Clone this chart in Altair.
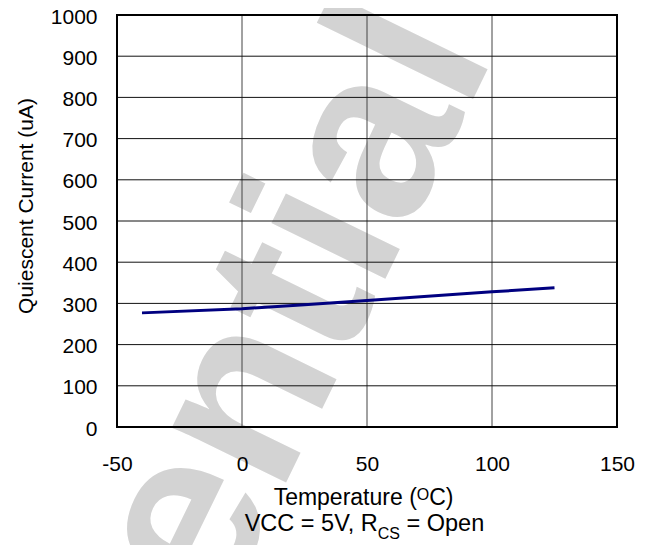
import altair as alt
import pandas as pd

# ---- data ----
temps = [-40, 0, 25, 50, 100, 125]
current = [277, 287, 297, 307, 328, 338]
x_ticks = [-50, 0, 50, 100, 150]
y_ticks = [0, 100, 200, 300, 400, 500, 600, 700, 800, 900, 1000]

W, H = 500, 412
FONT = "Liberation Sans"

df = pd.DataFrame({"T": temps, "I": current})
xs = alt.Scale(domain=[-50, 150], nice=False, zero=False)
ys = alt.Scale(domain=[0, 1000], nice=False)

ax_x = alt.Axis(values=x_ticks, labelExpr="'' + datum.value", ticks=False, tickSize=0,
                domain=False, grid=False, title=None, labelFontSize=21, labelFont=FONT,
                labelColor="#000000", labelPadding=26, labelFlush=False,
                labelOverlap=False, zindex=1)
ax_y = alt.Axis(values=y_ticks, labelExpr="'' + datum.value", ticks=False, tickSize=0,
                domain=False, grid=False, title=None, labelFontSize=21, labelFont=FONT,
                labelColor="#000000", labelPadding=20, labelFlush=False,
                labelOverlap=False, labelOffset=2, zindex=1)


def txt(text, x, y, size, align="left", angle=0, color="#000000", weight="normal",
        baseline="alphabetic"):
    return alt.Chart(pd.DataFrame({"t": [text]})).mark_text(
        align=align, baseline=baseline, fontSize=size, font=FONT, color=color,
        angle=angle, fontWeight=weight
    ).encode(text="t:N", x=alt.value(x), y=alt.value(y))


watermark = txt("Confidential", 378, 39, 240, align="right", angle=296,
                color="#d3d3d3", weight="bold")

xgrid = alt.Chart(pd.DataFrame({"T": x_ticks})).mark_rule(
    color="#444444", strokeWidth=1
).encode(x=alt.X("T:Q", scale=xs, axis=ax_x))

ygrid = alt.Chart(pd.DataFrame({"I": y_ticks})).mark_rule(
    color="#111111", strokeWidth=1
).encode(y=alt.Y("I:Q", scale=ys, axis=ax_y))

line = alt.Chart(df).mark_line(color="#000080", strokeWidth=3).encode(
    x=alt.X("T:Q", scale=xs, axis=ax_x),
    y=alt.Y("I:Q", scale=ys, axis=ax_y),
)

border = alt.Chart(pd.DataFrame({"a": [0]})).mark_rect(
    fill=None, stroke="#000000", strokeWidth=2
).encode(x=alt.value(0), x2=alt.value(W), y=alt.value(0), y2=alt.value(H))

ytitle = txt("Quiescent Current (uA)", -84.5, 191, 21, align="center", angle=270)

t1a = txt("Temperature (", 299.8, 490, 23, align="right")
t1b = txt("O", 299.8, 485, 16, align="left")
t1c = txt("C)", 312.2, 490, 23, align="left")

t2a = txt("VCC = 5V, R", 260.7, 515.7, 23.5, align="right")
t2b = txt("CS", 260.7, 524, 16, align="left")
t2c = txt("= Open", 289.5, 515.7, 23.5, align="left")

chart = alt.layer(
    watermark, xgrid, ygrid, line, border, ytitle, t1a, t1b, t1c, t2a, t2b, t2c
).properties(
    width=W, height=H,
    autosize=alt.AutoSizeParams(type="none"),
    padding={"left": 109, "top": 7, "right": 28, "bottom": 118},
).configure_view(strokeWidth=0).configure(background="#ffffff")

chart.save("out.html", embed_options={"renderer": "svg", "actions": False})
